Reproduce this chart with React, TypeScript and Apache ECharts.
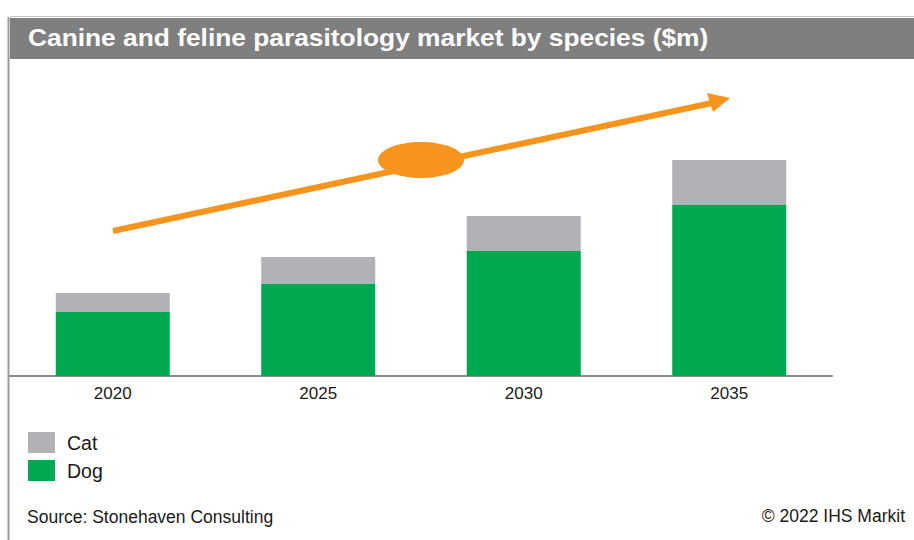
import React, { useEffect, useRef } from "react";
import * as echarts from "echarts";

const categories = ["2020", "2025", "2030", "2035"];
const dogValues = [640, 920, 1250, 1710];
const catValues = [190, 270, 350, 450];
const legendNames = ["Cat", "Dog"];
const titleText = "Canine and feline parasitology market by species ($m)";
const sourceText = "Source: Stonehaven Consulting";
const copyrightText = "© 2022 IHS Markit";

const FONT = "'Liberation Sans', Arial, sans-serif";
const ORANGE = "#F7941D";

export default function App() {
  const ref = useRef<HTMLDivElement>(null);
  useEffect(() => {
    if (!ref.current) return;
    const chart = echarts.init(ref.current, undefined, { renderer: "svg" });
    chart.setOption({
      animation: false,
      backgroundColor: "#ffffff",
      textStyle: { fontFamily: FONT },
      grid: { left: 10, right: 82, top: 76, bottom: 164, containLabel: false },
      legend: {
        data: legendNames,
        orient: "vertical",
        left: 28,
        top: 432,
        padding: 0,
        itemWidth: 27,
        itemHeight: 21,
        itemGap: 7,
        icon: "rect",
        textStyle: { fontSize: 19.5, color: "#1a1a1a", fontFamily: FONT, padding: [0, 0, 0, 7] },
      },
      xAxis: {
        type: "category",
        data: categories,
        axisLine: { lineStyle: { color: "#8c8c8c", width: 2 } },
        axisTick: { show: false },
        axisLabel: { fontSize: 17, color: "#1a1a1a", margin: 9, fontFamily: FONT },
      },
      yAxis: {
        type: "value",
        min: 0,
        max: 3000,
        show: false,
        splitLine: { show: false },
      },
      series: [
        {
          name: "Dog",
          type: "bar",
          stack: "total",
          data: dogValues,
          barWidth: 114,
          itemStyle: { color: "#00A94F" },
        },
        {
          name: "Cat",
          type: "bar",
          stack: "total",
          data: catValues,
          barWidth: 114,
          itemStyle: { color: "#B1B2B6" },
        },
      ],
      graphic: [
        { type: "line", shape: { x1: 10, y1: 16.5, x2: 914, y2: 16.5 }, style: { stroke: "#c8c8c8", lineWidth: 1 } },
        { type: "rect", shape: { x: 10, y: 18, width: 904, height: 41 }, style: { fill: "#7F7F7F" } },
        { type: "line", shape: { x1: 8.5, y1: 17, x2: 8.5, y2: 540 }, style: { stroke: "#9a9a9a", lineWidth: 2 } },
        {
          type: "text",
          x: 28,
          y: 25,
          scaleX: 1.097,
          style: { text: titleText, fill: "#ffffff", font: `bold 24px ${FONT}` },
        },
        // trend arrow
        {
          type: "line",
          shape: { x1: 113, y1: 231, x2: 712, y2: 103 },
          style: { stroke: ORANGE, lineWidth: 6 },
          z: 10,
        },
        {
          type: "polygon",
          shape: { points: [[730, 98], [707, 93], [713, 112]] },
          style: { fill: ORANGE },
          z: 10,
        },
        {
          type: "ellipse",
          shape: { cx: 421, cy: 160, rx: 43, ry: 18 },
          style: { fill: ORANGE },
          z: 10,
        },
        {
          type: "text",
          left: 27,
          top: 508,
          style: { text: sourceText, fill: "#1a1a1a", font: `17.5px ${FONT}` },
        },
        {
          type: "text",
          right: 9,
          top: 507,
          style: { text: copyrightText, fill: "#1a1a1a", font: `17.5px ${FONT}` },
        },
      ],
    });
    return () => chart.dispose();
  }, []);
  return (
    <div
      ref={ref}
      style={{ position: "fixed", left: 0, top: 0, width: 914, height: 540, background: "#fff" }}
    />
  );
}
